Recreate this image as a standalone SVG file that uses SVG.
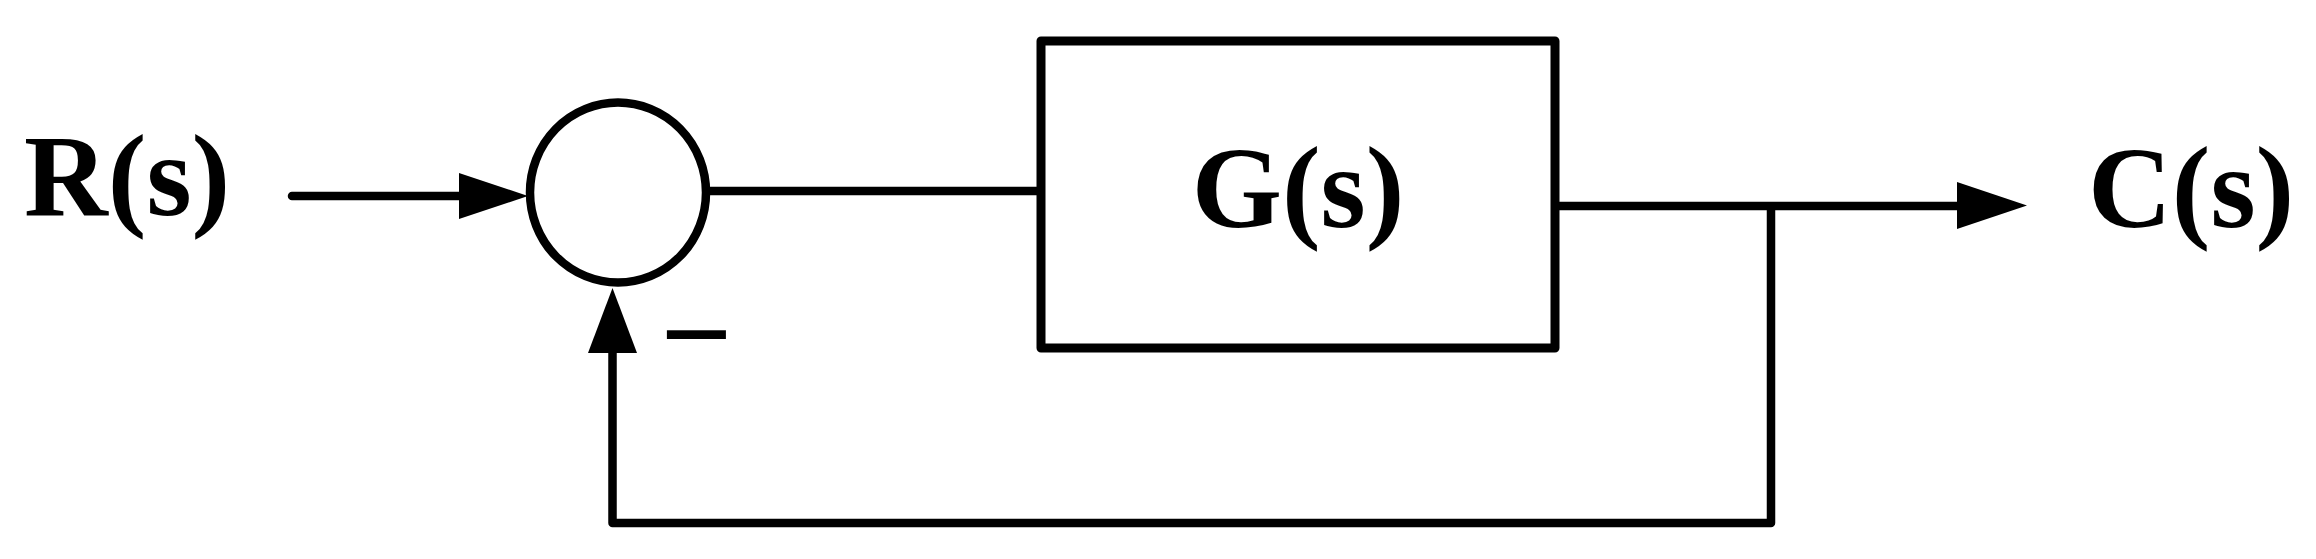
<svg xmlns="http://www.w3.org/2000/svg" width="2316" height="559" viewBox="0 0 2316 559">
  <style>
    .lbl { font-family: "Liberation Serif", "Times New Roman", serif; font-weight: bold; font-size: 116px; fill: #000; }
    .ln { fill: none; stroke: #000; stroke-width: 8.5; stroke-linejoin: round; }
    .head { fill: #000; stroke: none; }
  </style>
  <rect width="2316" height="559" fill="#fff"/>
  <g id="connectors">
    <line class="ln" x1="292" y1="196" x2="462" y2="196" stroke-linecap="round"/>
    <polygon class="head" points="459,173 459,219 528,196"/>
    <line class="ln" x1="710" y1="191" x2="1041" y2="191"/>
    <line class="ln" x1="1555" y1="206" x2="1960" y2="206"/>
    <polygon class="head" points="1957,182 1957,229 2027,205.5"/>
    <path class="ln" d="M 1771 206 V 523 H 612.5 V 350"/>
    <polygon class="head" points="588,353 637,353 612.5,288"/>
  </g>
  <g id="sum">
    <ellipse cx="618" cy="192.5" rx="88" ry="90" fill="none" stroke="#000" stroke-width="8.5"/>
    <text class="lbl" x="660" y="377" style="font-size:127px">−</text>
  </g>
  <g id="block-G">
    <rect x="1041" y="41" width="514" height="307" fill="none" stroke="#000" stroke-width="9" stroke-linejoin="round"/>
    <text class="lbl" x="1298" y="227" text-anchor="middle">G(s)</text>
  </g>
  <g id="input-R">
    <text class="lbl" x="24" y="215">R(s)</text>
  </g>
  <g id="output-C">
    <text class="lbl" x="2088" y="227">C(s)</text>
  </g>
</svg>
